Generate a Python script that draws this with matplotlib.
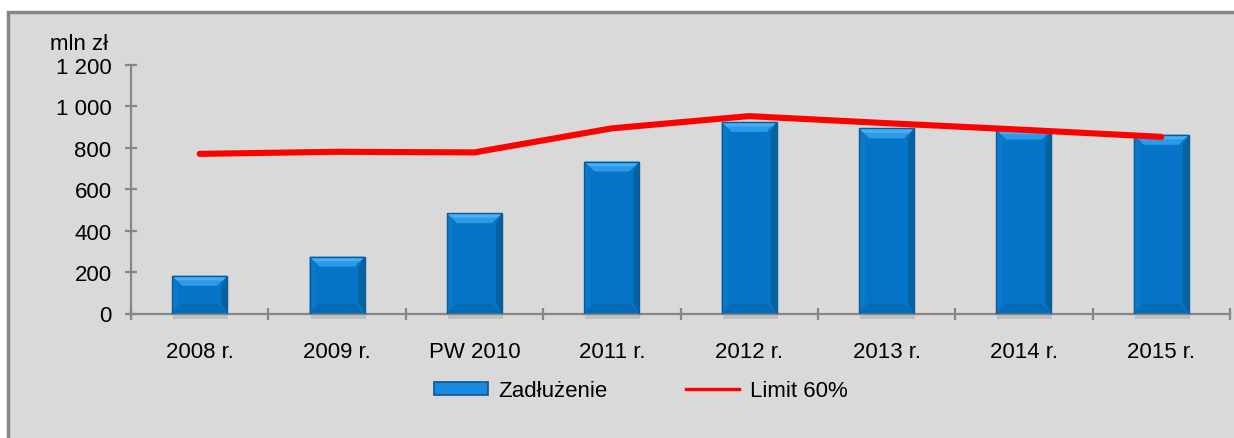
import matplotlib.pyplot as plt
from matplotlib.patches import Rectangle, Polygon
from matplotlib.lines import Line2D
import numpy as np

categories = ["2008 r.", "2009 r.", "PW 2010", "2011 r.", "2012 r.", "2013 r.", "2014 r.", "2015 r."]
debt = [182, 274, 484, 733, 924, 893, 887, 862]
limit_60 = [770, 780, 777, 893, 952, 918, 886, 852]

plt.rcParams['font.family'] = ['Liberation Sans', 'DejaVu Sans']
FS = 16

W, H = 1234, 439
fig = plt.figure(figsize=(W / 100, H / 100), dpi=100)
fig.patch.set_facecolor('white')

# gray panel with border
fig.patches.append(Rectangle((8 / W, -0.05), 1.1, 1 - 13 / H + 0.05, transform=fig.transFigure,
                             facecolor='#d9d9d9', edgecolor='#878787', linewidth=2.5, zorder=-10))

left, right, bottom, top = 131 / W, 1230 / W, 1 - 314.5 / H, 1 - 65.7 / H
ax = fig.add_axes([left, bottom, right - left, top - bottom])
ax.set_facecolor('none')

x = np.arange(len(categories))
ax.set_xlim(-0.5, len(categories) - 0.5)
ax.set_ylim(0, 1200)

# data units per pixel
px_x = len(categories) / (W * (right - left))
px_y = 1200 / (H * (top - bottom))

bw = 0.4
bev_x, bev_y = 10 * px_x, 10 * px_y
for xi, h in zip(x, debt):
    x0, x1 = xi - bw / 2, xi + bw / 2
    # shadow
    ax.add_patch(Rectangle((x0 + 1 * px_x, -5 * px_y), bw, h, facecolor='#a8a8a8', alpha=0.5,
                           edgecolor='none', zorder=1, clip_on=False))
    ax.add_patch(Rectangle((x0, 0), bw, h, facecolor='#0675c7', edgecolor='none', zorder=2))
    # top bevel
    ax.add_patch(Polygon([(x0, h), (x1, h), (x1 - bev_x, h - bev_y), (x0 + bev_x, h - bev_y)],
                         closed=True, facecolor='#2c9ae6', edgecolor='none', zorder=3))
    ax.add_patch(Polygon([(x0, h), (x1, h), (x1 - bev_x * 0.45, h - bev_y * 0.45),
                          (x0 + bev_x * 0.45, h - bev_y * 0.45)],
                         closed=True, facecolor='#45b0f4', edgecolor='none', zorder=3))
    # left bevel
    ax.add_patch(Polygon([(x0, h), (x0 + bev_x * 0.6, h - bev_y), (x0 + bev_x * 0.6, bev_y), (x0, 0)],
                         closed=True, facecolor='#0a7acb', edgecolor='none', zorder=3))
    # right bevel
    ax.add_patch(Polygon([(x1, h), (x1 - bev_x * 0.6, h - bev_y), (x1 - bev_x * 0.6, bev_y), (x1, 0)],
                         closed=True, facecolor='#05629f', edgecolor='none', zorder=3))
    # bottom bevel
    ax.add_patch(Polygon([(x0, 0), (x1, 0), (x1 - bev_x, bev_y), (x0 + bev_x, bev_y)],
                         closed=True, facecolor='#066bb5', edgecolor='none', zorder=3))
    ax.add_patch(Rectangle((x0, 0), bw, h, facecolor='none', edgecolor='#0b5a95',
                           linewidth=1.0, zorder=4))

ax.plot(x, limit_60, color='#ff0000', linewidth=4.4, solid_capstyle='round',
        solid_joinstyle='round', zorder=5)

for s in ['top', 'right']:
    ax.spines[s].set_visible(False)
for s in ['left', 'bottom']:
    ax.spines[s].set_color('#868686')
    ax.spines[s].set_linewidth(1.6)

ax.set_yticks(range(0, 1201, 200))
ax.set_yticklabels([f"{v:,}".replace(",", " ") for v in range(0, 1201, 200)], fontsize=FS)
ax.set_xticks(np.arange(-0.5, len(categories), 1.0))
ax.set_xticklabels([])
ax.set_xticks(x, minor=True)
ax.set_xticklabels(categories, minor=True, fontsize=FS)
ax.tick_params(axis='y', direction='inout', length=9, width=1.6, color='#868686', pad=9.5)
ax.tick_params(axis='x', which='major', direction='inout', length=9, width=1.6, color='#868686')
ax.tick_params(axis='x', which='minor', length=0, pad=20)

fig.text(108 / W, 1 - 44 / H, "mln zł", fontsize=FS, ha='right', va='center')

handles = [Rectangle((0, 0), 1, 1, facecolor='#1a8ae0', edgecolor='#0a5690', linewidth=1.2),
           Line2D([0], [0], color='#ff0000', linewidth=2.4)]
fig.legend(handles, ["Zadłużenie", "Limit 60%"], loc='center', bbox_to_anchor=(641 / W, 1 - 392 / H),
           ncol=2, frameon=False, fontsize=FS, handlelength=2.4, handleheight=0.5,
           handletextpad=0.5, columnspacing=3.5)

fig.savefig('out.png', dpi=100)
